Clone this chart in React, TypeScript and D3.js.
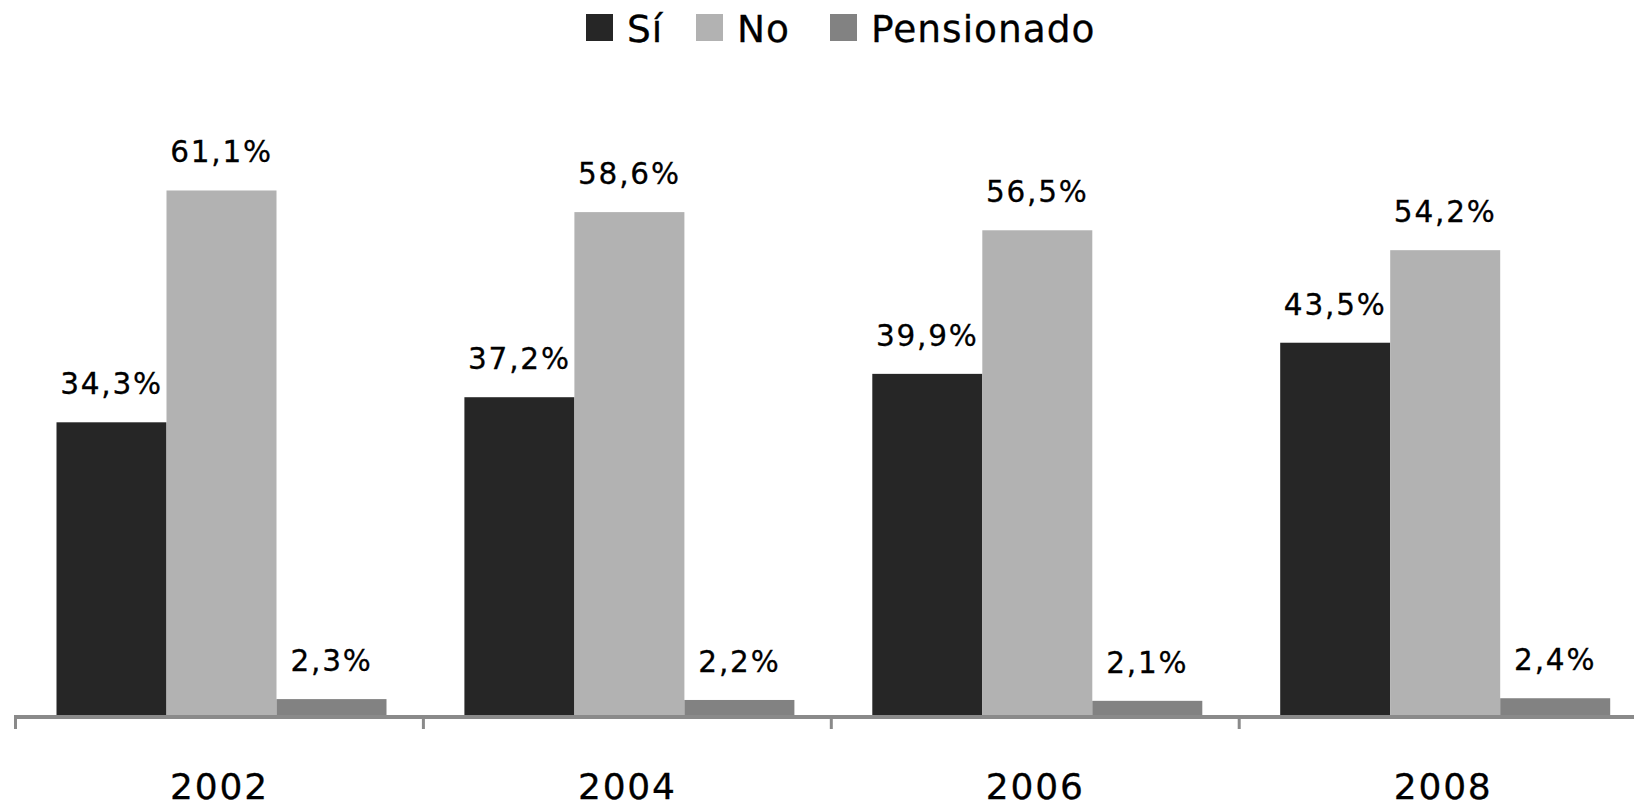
import React from "react";
import * as d3 from "d3";

const years = ["2002", "2004", "2006", "2008"];
const seriesNames = ["Sí", "No", "Pensionado"];
const siValues = [34.3, 37.2, 39.9, 43.5];
const noValues = [61.1, 58.6, 56.5, 54.2];
const pensValues = [2.3, 2.2, 2.1, 2.4];
const colors = ["#262626", "#b2b2b2", "#828282"];

const W = 1634;
const H = 805;
const baseY = 719;
const font = "'DejaVu Sans', Verdana, sans-serif";

export default function App() {
  const series = [siValues, noValues, pensValues];
  const x0 = d3.scaleBand<string>().domain(years).range([15.5, 15.5 + 4 * 407.9]).padding(0);
  const x1 = d3.scaleBand<string>().domain(seriesNames).range([41, 371]).padding(0);
  const y = d3.scaleLinear().domain([0, 70]).range([baseY, baseY - 70 * 8.65]);
  const fmt = (v: number) => v.toFixed(1).replace(".", ",") + "%";

  const legendX = [586, 696, 830];

  return (
    <svg width={W} height={H} style={{ position: "absolute", left: 0, top: 0, background: "#fff" }}>
      {/* legend */}
      {seriesNames.map((s, i) => (
        <g key={s}>
          <rect x={legendX[i]} y={14} width={27} height={27} fill={colors[i]} />
          <text
            x={legendX[i] + 41}
            y={41.5}
            fontFamily={font}
            fontSize={37.5}
            fill="#000"
            stroke="#000"
            strokeWidth={0.3}
            style={{ letterSpacing: "1px" }}
          >
            {s}
          </text>
        </g>
      ))}
      {/* bars */}
      {years.map((yr, yi) => (
        <g key={yr} transform={`translate(${x0(yr)},0)`}>
          {seriesNames.map((s, si) => {
            const v = series[si][yi];
            const bx = x1(s)!;
            const bw = x1.bandwidth();
            return (
              <g key={s}>
                <rect x={bx} y={y(v)} width={bw} height={baseY - y(v)} fill={colors[si]} />
                <text
                  x={bx + bw / 2}
                  y={y(v) - 28}
                  textAnchor="middle"
                  fontFamily={font}
                  fontSize={29.5}
                  stroke="#000"
                  strokeWidth={0.3}
                  style={{ letterSpacing: "1.8px" }}
                  fill="#000"
                >
                  {fmt(v)}
                </text>
              </g>
            );
          })}
          <text
            x={x0.bandwidth() / 2}
            y={798.5}
            textAnchor="middle"
            fontFamily={font}
            fontSize={36}
            stroke="#000"
            strokeWidth={0.3}
            style={{ letterSpacing: "1.8px" }}
            fill="#000"
          >
            {yr}
          </text>
        </g>
      ))}
      {/* axis */}
      <line x1={14} x2={W} y1={717} y2={717} stroke="#8a8a8a" strokeWidth={4} />
      {years.map((yr) => (
        <line
          key={"t" + yr}
          x1={x0(yr)!}
          x2={x0(yr)!}
          y1={717}
          y2={729}
          stroke="#8a8a8a"
          strokeWidth={3}
        />
      ))}
    </svg>
  );
}
